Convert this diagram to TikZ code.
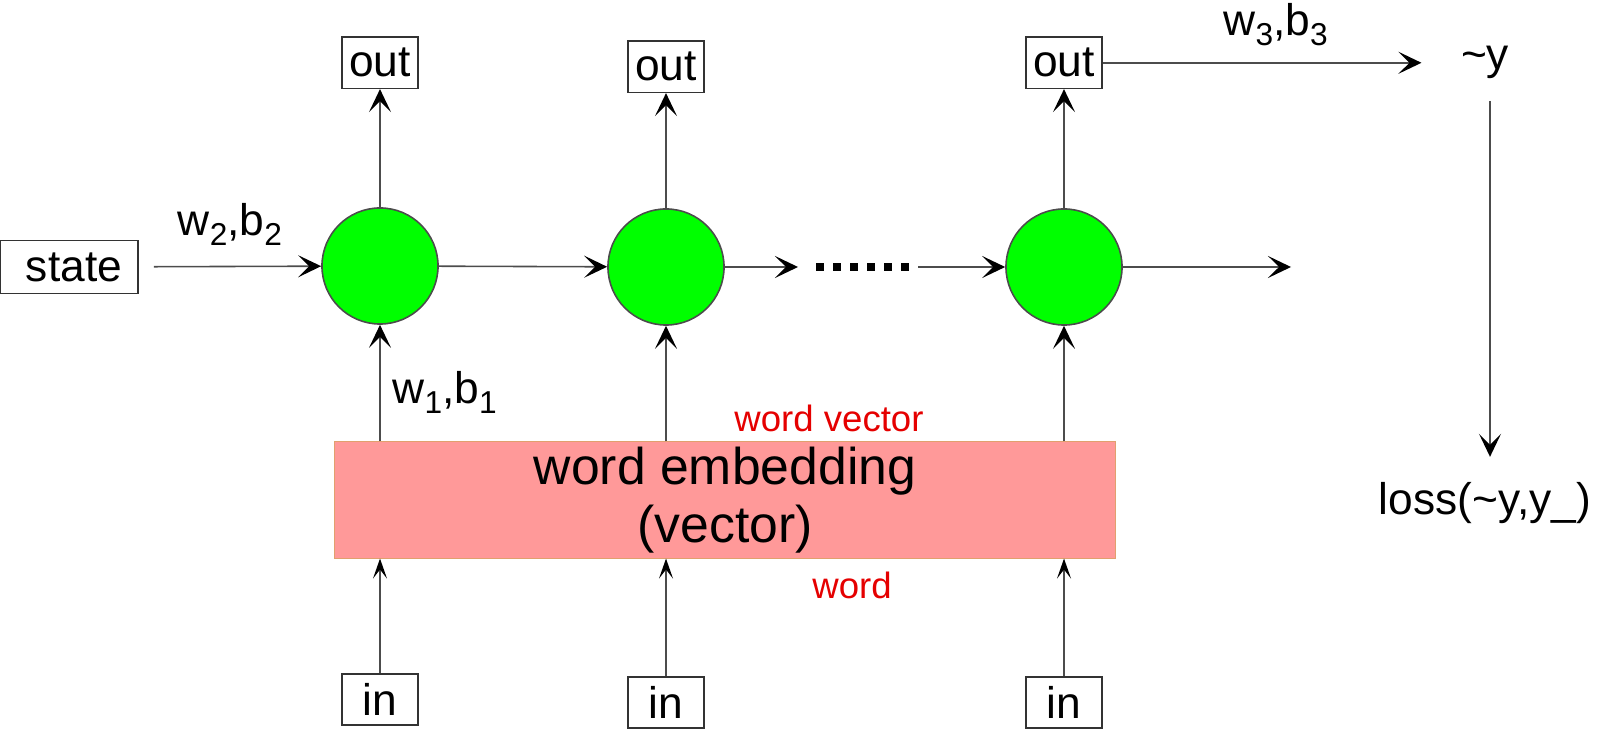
\documentclass[tikz,border=0pt]{standalone}
\usepackage{fontspec}
\setmainfont{Liberation Sans}
\usetikzlibrary{arrows.meta,positioning}
\newcommand{\lowsub}[1]{\raisebox{-0.45ex}{\fontsize{9}{10}\selectfont #1}}

\begin{document}
\begin{tikzpicture}[x=0.01cm,y=-0.01cm,>={Stealth[length=2.3mm,width=2.2mm,inset=1.1mm,color=black]},line width=0.45pt,font=\fontsize{12.6}{15}\selectfont,
	cell/.style={circle,draw=black!70,fill=green,minimum size=1.16cm,inner sep=0pt},
	box/.style={draw=black!80,minimum width=0.76cm,minimum height=0.51cm,inner sep=0pt},
	link/.style={->,draw=black!70},
	small link/.style={draw=black!70,-{Stealth[length=2mm,width=1.4mm,inset=0.9mm,color=black]}},
	red label/.style={text=red!90!black,font=\fontsize{10.4}{12}\selectfont}]

		\useasboundingbox (0,0) rectangle (1600,731);

		\node (s) [box,minimum width=1.38cm,minimum height=0.53cm] at (69,267) {\hspace{0.1cm}state};
		\node (c1) [cell] at (380,266) {};
		\node (c2) [cell] at (666,267) {};
		\node (c3) [cell] at (1064,267) {};
		\node (o1) [box,above=1.18cm of c1] {out};
		\node (o2) [box,above=1.15cm of c2] {out};
		\node (o3) [box,above=1.19cm of c3] {out};
		\node (emb) [fill=red!40,draw={rgb,255:red,225;green,160;blue,110},line width=0.3pt,minimum width=7.8cm,minimum height=1.16cm,inner ysep=0pt,align=center,font=\fontsize{14.7}{16.3}\selectfont] at (725,500) {word embedding\\(vector)};
		\node (i1) [box,below=3.48cm of c1] {in};
		\node (i2) [box,below=3.5cm of c2] {in};
		\node (i3) [box,below=3.5cm of c3] {in};
		\node (wv) [red label] at (829,418) {word vector};
		\node (w) [red label] at (852,585) {word};
		\node (y) at (1485,62) {\textasciitilde y};
		\node (l) at (1485,503) {loss(\textasciitilde y,y\_)};
		\coordinate (d1) at (798,267);
		\coordinate (d2) at (918,267);
		\coordinate (r) at (1291,267);

		\draw[link,shorten <=0.15cm] (s) to node[above=0.08cm] {w\lowsub{2},b\lowsub{2}} (c1);
		\draw[link] (c1) to (c2);
		\draw[link] (c2) to (d1);
		\draw[line width=0.08cm,dash pattern=on 0.08cm off 0.09cm,shorten <=0.18cm] (d1) to (d2);
		\draw[link] (d2) to (c3);
		\draw[link] (c3) to (r);
		\draw[link] (c1) to (o1);
		\draw[link] (c2) to (o2);
		\draw[link] (c3) to (o3);
		\draw[link,shorten >=0.27cm] (o3) to node[above=0.04cm] {w\lowsub{3},b\lowsub{3}} (o3 -| y.west);
		\draw[link,shorten <=0.1cm,shorten >=0.13cm] (y.south -| 1490,0) to (l.north -| 1490,0);
		\draw[link] (emb.north -| c1) to node[right,pos=0.42] {w\lowsub{1},b\lowsub{1}} (c1);
		\draw[link] (emb.north -| c2) to (c2);
		\draw[link] (emb.north -| c3) to (c3);
		\draw[small link] (i1) to (i1 |- emb.south);
		\draw[small link] (i2) to (i2 |- emb.south);
		\draw[small link] (i3) to (i3 |- emb.south);

		;
	\end{tikzpicture}
\end{document}
